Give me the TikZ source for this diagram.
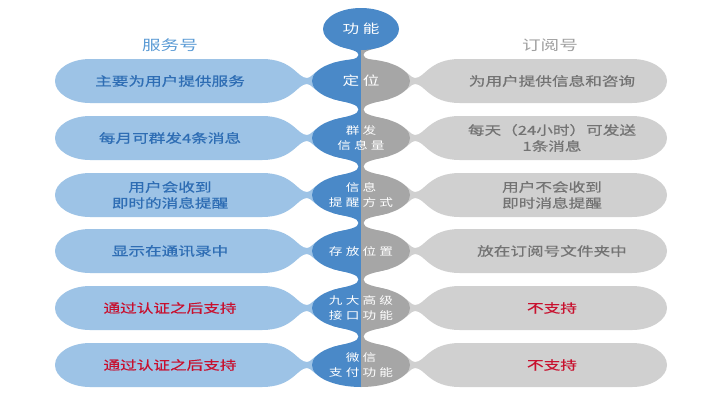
\documentclass[tikz,border=0pt]{standalone}
\usepackage{fontspec}
\setmainfont{Noto Sans CJK SC}[FakeStretch=1.33]
\newfontfamily\pillfont{Noto Sans CJK SC}[FakeStretch=1.33,FakeBold=0.6]
\newfontfamily\midfont{Noto Sans CJK SC}[FakeStretch=1.3,LetterSpace=30]
\usepackage{tikz}
\definecolor{pillblue}{RGB}{157,195,230}
\definecolor{pillgray}{RGB}{208,208,208}
\definecolor{midblue}{RGB}{74,137,200}
\definecolor{midgray}{RGB}{166,166,166}
\definecolor{svctext}{RGB}{46,109,180}
\definecolor{subtext}{RGB}{115,115,115}
\definecolor{nored}{RGB}{200,16,46}
\definecolor{headblue}{RGB}{91,155,213}
\definecolor{headgray}{RGB}{160,160,160}
\tikzset{lefttxt/.style={text=svctext, font=\pillfont\fontsize{12.5}{16}\selectfont, align=center},
         righttxt/.style={text=subtext, font=\pillfont\fontsize{12.5}{16}\selectfont, align=center},
         midtxt/.style={text=white, font=\midfont\fontsize{10.5}{15}\selectfont, align=center},
         headtxt/.style={font=\fontsize{14}{16}\selectfont}}
% one row of side pills, #1 = y of the row
\newcommand{\sidepills}[1]{%
  \fill[pillblue] (90,#1-22) -- (262,#1-22) .. controls (293,#1-22) and (297,#1-3) .. (307,#1-3)
    .. controls (311,#1-3) and (314,#1-9) .. (319,#1-10.5) -- (319,#1+10.5)
    .. controls (314,#1+9) and (311,#1+3) .. (307,#1+3) .. controls (297,#1+3) and (293,#1+22) .. (262,#1+22)
    -- (90,#1+22) arc[start angle=90, end angle=270, x radius=35, y radius=22] -- cycle;
  \fill[pillgray] (632,#1-22) -- (460,#1-22) .. controls (429,#1-22) and (425,#1-3) .. (415,#1-3)
    .. controls (411,#1-3) and (408,#1-9) .. (403,#1-10.5) -- (403,#1+10.5)
    .. controls (408,#1+9) and (411,#1+3) .. (415,#1+3) .. controls (425,#1+3) and (429,#1+22) .. (460,#1+22)
    -- (632,#1+22) arc[start angle=90, end angle=-90, x radius=35, y radius=22] -- cycle;
}
% neck between two middle rows
\newcommand{\midneck}[2]{%
  \pgfmathsetmacro{\nm}{(#1+#2)/2}
  \fill (333,#1+18) .. controls (349,#1+22) and (358.5,\nm-5) .. (358.5,\nm)
    .. controls (358.5,\nm+5) and (349,#2-22) .. (333,#2-18) -- (389,#2-18)
    .. controls (373,#2-22) and (363.5,\nm+5) .. (363.5,\nm)
    .. controls (363.5,\nm-5) and (373,#1+22) .. (389,#1+18) -- cycle;
}
\newcommand{\midcolumn}{%
  \fill (339,46) .. controls (352,50) and (358.5,51) .. (358.5,55) .. controls (358.5,59) and (350,60) .. (333,63)
    -- (389,63) .. controls (372,60) and (363.5,59) .. (363.5,55) .. controls (363.5,51) and (370,50) .. (383,46) -- cycle;
  \fill (361,81) ellipse [x radius=49, y radius=22];
  \fill (361,138) ellipse [x radius=49, y radius=22];
  \fill (361,195) ellipse [x radius=49, y radius=22];
  \fill (361,251) ellipse [x radius=49, y radius=22];
  \fill (361,308) ellipse [x radius=49, y radius=22];
  \fill (361,365) ellipse [x radius=49, y radius=22];
  \midneck{81}{138}
  \midneck{138}{195}
  \midneck{195}{251}
  \midneck{251}{308}
  \midneck{308}{365}
}

\begin{document}
\begin{tikzpicture}[x=1pt,y=-1pt]
\useasboundingbox[fill=white] (0,0) rectangle (720,400);

\sidepills{81}
\sidepills{138}
\sidepills{195}
\sidepills{251}
\sidepills{308}
\sidepills{365}

\begin{scope}[fill=midblue]
  \clip (0,0) rectangle (361,400);
  \midcolumn
\end{scope}
\begin{scope}[fill=midgray]
  \clip (361,0) rectangle (720,400);
  \midcolumn
\end{scope}
\fill[midblue] (361,29) ellipse [x radius=38, y radius=21];

\node [headtxt, text=headblue] (svc) at (170,45) {服务号};
\node [headtxt, text=headgray] (sub) at (550,45) {订阅号};
\node [midtxt, font=\fontsize{12.5}{15}\selectfont] (func) at (361,29) {功 能};

\node [midtxt, font=\fontsize{12.5}{15}\selectfont] (pos) at (361,81) {定 位};
\node [lefttxt] (posl) at (170,81) {主要为用户提供服务};
\node [righttxt] (posr) at (552,81) {为用户提供信息和咨询};

\node [midtxt] (msg) at (361,138) {群发\\信息量};
\node [lefttxt] (msgl) at (170,138) {每月可群发4条消息};
\node [righttxt] (msgr) at (552,138) {每天（24小时）可发送\\1条消息};

\node [midtxt] (note) at (361,195) {信息\\提醒方式};
\node [lefttxt] (notel) at (170,195) {用户会收到\\即时的消息提醒};
\node [righttxt] (noter) at (552,195) {用户不会收到\\即时消息提醒};

\node [midtxt] (place) at (361,251) {存放位置};
\node [lefttxt] (placel) at (170,251) {显示在通讯录中};
\node [righttxt] (placer) at (552,251) {放在订阅号文件夹中};

\node [midtxt] (api) at (361,308) {九大高级\\接口功能};
\node [lefttxt, text=nored] (apil) at (170,308) {通过认证之后支持};
\node [righttxt, text=nored] (apir) at (552,308) {不支持};

\node [midtxt] (pay) at (361,365) {微信\\支付功能};
\node [lefttxt, text=nored] (payl) at (170,365) {通过认证之后支持};
\node [righttxt, text=nored] (payr) at (552,365) {不支持};
\end{tikzpicture}
\end{document}
